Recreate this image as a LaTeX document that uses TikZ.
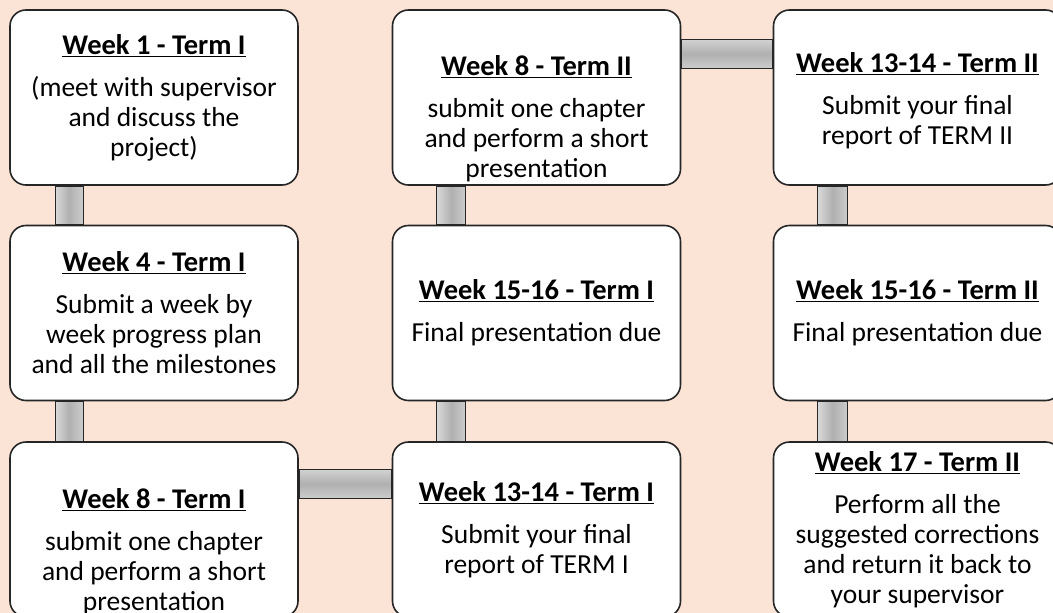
\documentclass[tikz,border=0pt]{standalone}
\usepackage{fontspec}
\setmainfont{Carlito}
\usepackage{tikz}
\usepackage{xcolor}
\definecolor{peach}{RGB}{251,227,214}
\newcommand{\wk}[1]{{\fontsize{28.5}{30}\selectfont\textbf{\underline{#1}}}}

\begin{document}
\begin{tikzpicture}[x=1pt,y=-1pt,
    stage/.style={draw=black!85,line width=1.6pt,fill=white,rounded corners=16pt,
        minimum width=288pt,minimum height=175pt,inner sep=0pt},
    txt/.style={align=center,font=\fontsize{27.5}{30}\selectfont,inner sep=0pt},
    vbar/.style={draw=black!85,line width=1.4pt,left color=gray!30,right color=gray!40,middle color=gray!62},
    hbar/.style={draw=black!85,line width=1.4pt,top color=gray!35,bottom color=gray!40,middle color=gray!62}]
\useasboundingbox (0,0) rectangle (1053,613);
\clip (0,0) rectangle (1053,613);
\fill[peach] (0,0) rectangle (1053,613);

% boxes
\node[stage] (I1) at (154,97.5) {};
\node[stage] (I4) at (154,313) {};
\node[stage] (I8) at (154,529.5) {};
\node[stage] (I13) at (536.5,529.5) {};
\node[stage] (I15) at (536.5,313) {};
\node[stage] (II8) at (536.5,97.5) {};
\node[stage] (II13) at (917.5,97.5) {};
\node[stage] (II15) at (917.5,313) {};
\node[stage] (II17) at (917.5,529.5) {};

% bars between the boxes
\path[vbar] ([xshift=46pt]I1.south west) rectangle ([xshift=74pt]I4.north west);
\path[vbar] ([xshift=46pt]I4.south west) rectangle ([xshift=74pt]I8.north west);
\path[hbar] ([yshift=-28pt]I8.north east) rectangle ([yshift=-57pt]I13.north west);
\path[vbar] ([xshift=45pt]I15.south west) rectangle ([xshift=74pt]I13.north west);
\path[vbar] ([xshift=45pt]II8.south west) rectangle ([xshift=74pt]I15.north west);
\path[hbar] ([yshift=-30pt]II8.north east) rectangle ([yshift=-59pt]II13.north west);
\path[vbar] ([xshift=45pt]II13.south west) rectangle ([xshift=75pt]II15.north west);
\path[vbar] ([xshift=45pt]II15.south west) rectangle ([xshift=75pt]II17.north west);

% texts
\node[txt] (tI1) at (I1.center) {\wk{Week 1 - Term I}\\[12pt](meet with supervisor\\and discuss the\\project)};
\node[txt] (tI4) at (I4.center) {\wk{Week 4 - Term I}\\[12pt]Submit a week by\\week progress plan\\and all the milestones};
\node[txt] (tI8) at ([yshift=-22pt]I8.center) {\wk{Week 8 - Term I}\\[12pt]submit one chapter\\and perform a short\\presentation};
\node[txt] (tI13) at (I13.center) {\wk{Week 13-14 - Term I}\\[12pt]Submit your final\\report of TERM I};
\node[txt] (tI15) at (I15.center) {\wk{Week 15-16 - Term I}\\[12pt]Final presentation due};
\node[txt] (tII8) at ([yshift=-21pt]II8.center) {\wk{Week 8 - Term II}\\[12pt]submit one chapter\\and perform a short\\presentation};
\node[txt] (tII13) at ([yshift=-3pt]II13.center) {\wk{Week 13-14 - Term II}\\[12pt]Submit your final\\report of TERM II};
\node[txt] (tII15) at (II15.center) {\wk{Week 15-16 - Term II}\\[12pt]Final presentation due};
\node[txt] (tII17) at (II17.center) {\wk{Week 17 - Term II}\\[12pt]Perform all the\\suggested corrections\\and return it back to\\your supervisor};

\end{tikzpicture}
\end{document}
